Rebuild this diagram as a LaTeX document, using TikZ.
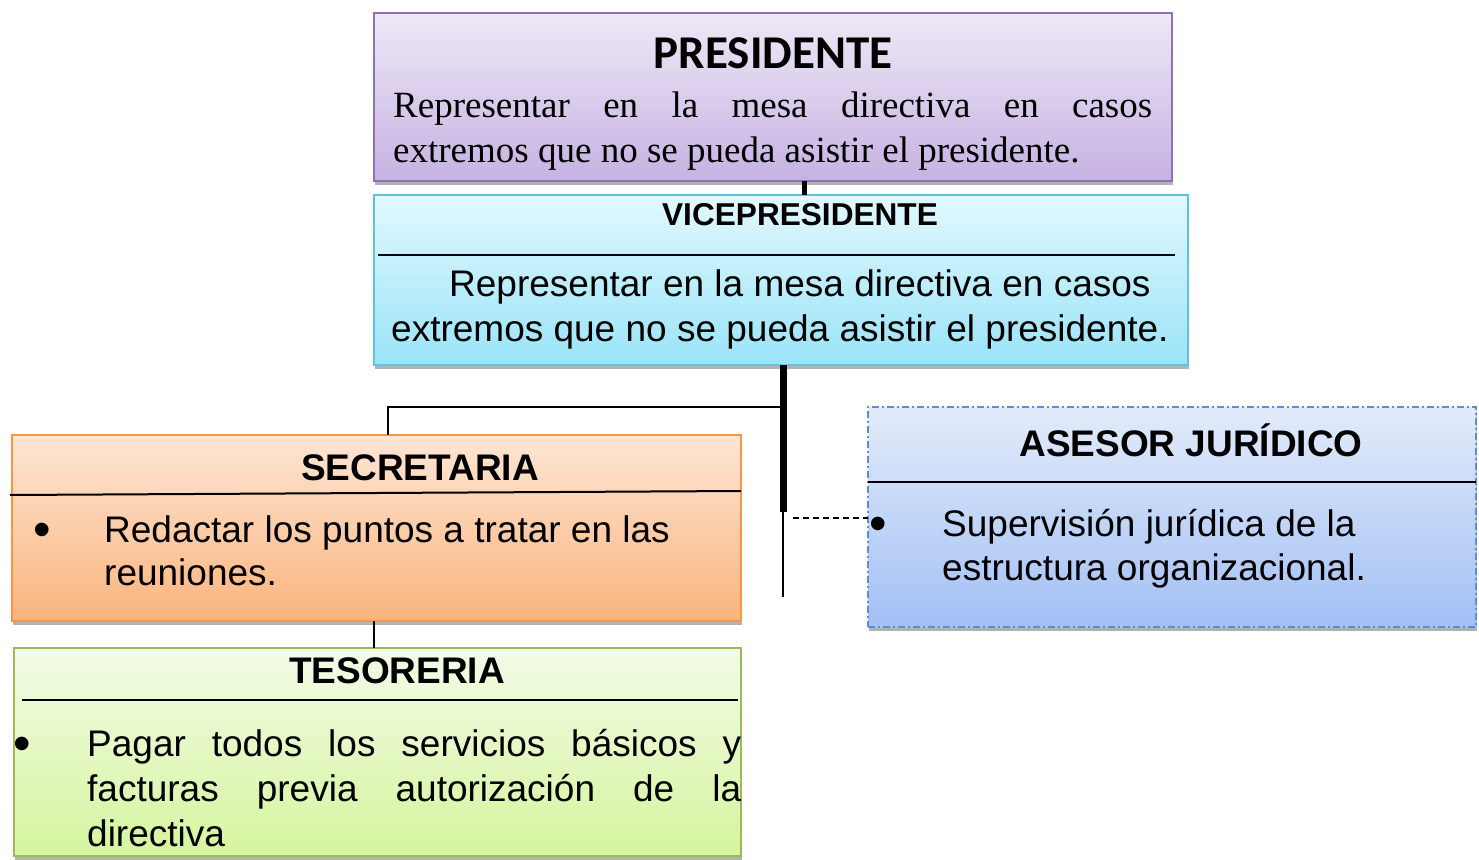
\documentclass[tikz,border=0pt]{standalone}
\usepackage{fontspec}
\setmainfont{Liberation Sans}
\newfontfamily\serifx{Liberation Serif}
\newfontfamily\calib{Carlito}
\usetikzlibrary{shadows}
\definecolor{presTop}{HTML}{EEE8F6}
\definecolor{presBot}{HTML}{C6B2E2}
\definecolor{presDraw}{HTML}{8E72B8}
\definecolor{viceTop}{HTML}{E2F8FE}
\definecolor{viceBot}{HTML}{9AE4F8}
\definecolor{viceDraw}{HTML}{5EC4DE}
\definecolor{secTop}{HTML}{FDE6D5}
\definecolor{secBot}{HTML}{FBB47C}
\definecolor{secDraw}{HTML}{F79646}
\definecolor{tesTop}{HTML}{F3FBE8}
\definecolor{tesBot}{HTML}{D5F59E}
\definecolor{tesDraw}{HTML}{9BBB59}
\definecolor{asTop}{HTML}{E3EBFA}
\definecolor{asBot}{HTML}{A2C0F5}
\definecolor{asDraw}{HTML}{5B8ED6}
\hyphenpenalty=10000
\newcommand{\natsp}{\spaceskip=0pt\xspaceskip=0pt\relax}
\newcommand{\bul}[1]{\llap{\makebox[#1][l]{\raisebox{-4pt}{\scalebox{1.35}{•}}}}}
\begin{document}
\begin{tikzpicture}[x=1pt,y=-1pt,
  box/.style={draw, line width=1.5pt, anchor=north west, inner sep=0pt, outer sep=0pt,
    drop shadow={shadow xshift=1pt, shadow yshift=-4pt, opacity=0.3, fill=black}},
  ttl/.style={anchor=base, inner sep=0pt, font=\bfseries\fontsize{37}{44}\selectfont},
  body/.style={anchor=base west, inner sep=0pt, align=left, font=\fontsize{37}{45}\selectfont},
  rule/.style={line width=2pt},
  conn/.style={line width=1.3pt},
  thick conn/.style={line width=7pt}
]
\useasboundingbox (0,0) rectangle (1479,859);

% boxes
\node[box, draw=presDraw, top color=presTop, bottom color=presBot, minimum width=798, minimum height=168] (pres) at (374,13) {};
\node[box, draw=viceDraw, top color=viceTop, bottom color=viceBot, minimum width=814, minimum height=170] (vice) at (374,195) {};
\node[box, draw=secDraw, top color=secTop, bottom color=secBot, minimum width=729, minimum height=186] (secr) at (12,435) {};
\node[box, draw=tesDraw, top color=tesTop, bottom color=tesBot, minimum width=727, minimum height=208] (teso) at (14,648) {};
\node[box, draw=asDraw, dash pattern=on 7pt off 3pt on 2pt off 3pt, top color=asTop, bottom color=asBot, minimum width=608, minimum height=220] (ases) at (868,407) {};

% PRESIDENTE
\node[anchor=base, inner sep=0pt, font=\calib\bfseries\fontsize{47}{56}\selectfont] (presT) at (773,68) {PRESIDENTE};
\node[body, text width=759pt, font=\serifx\fontsize{37}{45}\selectfont] (presX) at (393,117)
  {\natsp\makebox[759pt][s]{Representar en la mesa directiva en casos}\\extremos que no se pueda asistir el presidente.};

% VICEPRESIDENTE
\node[ttl, font=\bfseries\fontsize{31.6}{38}\selectfont] (viceT) at (800,225) {VICEPRESIDENTE};
\draw[rule] (378,255) -- (1175,255);
\node[body] (viceX) at (391,341)
  {\hspace*{58pt}Representar en la mesa directiva en casos\\extremos que no se pueda asistir el presidente.};

% SECRETARIA
\node[ttl] (secT) at (420,480) {SECRETARIA};
\draw[rule] (10,495) -- (741,491);
\node[body, text width=620pt, font=\fontsize{37}{43}\selectfont] (secX) at (104,542)
  {\natsp\bul{70.5pt}Redactar los puntos a tratar en las\\reuniones.};

% TESORERIA
\node[ttl] (tesT) at (397,683) {TESORERIA};
\draw[rule] (22,700) -- (738,700);
\node[body, text width=654pt] (tesX) at (87,756)
  {\natsp\bul{73.5pt}\makebox[654pt][s]{Pagar todos los servicios básicos y}\\\makebox[654pt][s]{facturas previa autorización de la}\\directiva};

% ASESOR JURIDICO
\node[ttl] (asT) at (1191,456) {ASESOR JURÍDICO};
\draw[rule] (868,482) -- (1476,482);
\node[body, text width=520pt, font=\fontsize{37}{44}\selectfont] (asX) at (942,536)
  {\natsp\bul{72.5pt}Supervisión jurídica de la\\estructura organizacional.};

% connectors
\coordinate (pv) at (804,0);
\draw[line width=5pt] (pres.south -| pv) -- (vice.north -| pv);
\coordinate (spine) at (783,512);
\coordinate (spineEnd) at (783,597);
\coordinate (br) at (783,407);
\coordinate (sx) at (388,0);
\coordinate (stx) at (374,0);
\coordinate (dl) at (793,518);
\draw[thick conn] (vice.south -| spine) -- (spine);
\draw[conn] (spine) -- (spineEnd);
\draw[conn] (br) -| (secr.north -| sx);
\draw[conn, dash pattern=on 6pt off 4pt] (dl) -- (ases.west |- dl);
\draw[conn] (secr.south -| stx) -- (teso.north -| stx);
\end{tikzpicture}
\end{document}
